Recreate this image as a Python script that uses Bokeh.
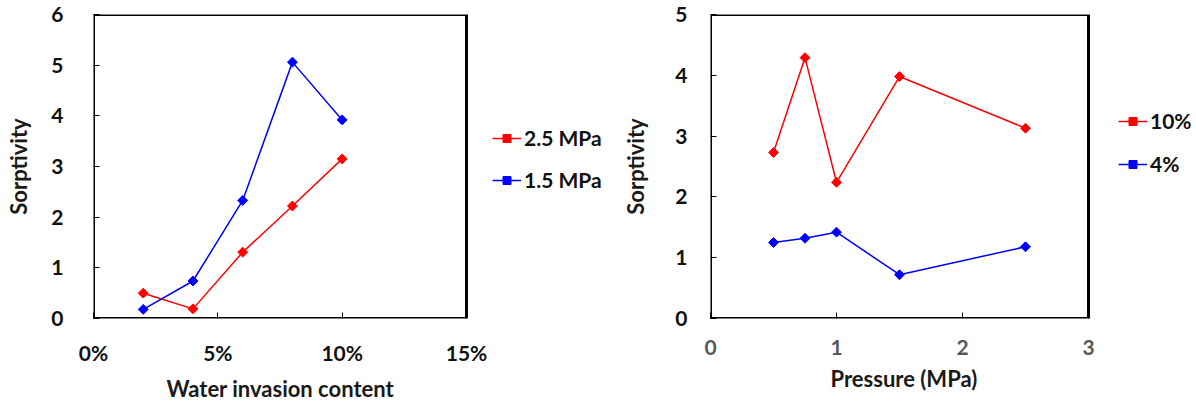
import math
from bokeh.plotting import figure
from bokeh.models import (Legend, LegendItem, FixedTicker, NumeralTickFormatter, Range1d,
                          BoxAnnotation, Title)
from bokeh.layouts import row
from bokeh.embed import file_html
from bokeh.resources import INLINE

# ---- data (left chart) ----
water_content = [0.02, 0.04, 0.06, 0.08, 0.10]
sorp_25mpa = [0.50, 0.19, 1.31, 2.22, 3.15]
sorp_15mpa = [0.18, 0.74, 2.33, 5.06, 3.92]
left_xticks = [0, 0.05, 0.10, 0.15]
left_yticks = [0, 1, 2, 3, 4, 5, 6]

# ---- data (right chart) ----
pressure = [0.5, 0.75, 1.0, 1.5, 2.5]
sorp_10pct = [2.73, 4.29, 2.24, 3.98, 3.13]
sorp_4pct = [1.25, 1.32, 1.42, 0.72, 1.18]
right_xticks = [0, 1, 2, 3]
right_yticks = [0, 1, 2, 3, 4, 5]

FONT = "Lato"
RED = "#ff0000"
BLUE = "#0000ff"
FIG_H = 407
TOP, BOTTOM = 14, 89


def style_axes(p, xtick_color, ytick_color, x_standoff, y_standoff, ylab_standoff):
    p.outline_line_color = None
    p.grid.visible = False
    p.background_fill_color = "white"
    p.border_fill_color = "white"
    for ax in (p.xaxis[0], p.yaxis[0]):
        ax.axis_line_color = None
        ax.major_tick_in = 6
        ax.major_tick_out = 0
        ax.major_tick_line_color = "black"
        ax.major_tick_line_width = 1
        ax.minor_tick_line_color = None
        ax.major_label_text_font = FONT
        ax.major_label_text_font_style = "bold"
        ax.major_label_text_font_size = "21px"
        ax.major_label_text_line_height = 1.0
        ax.axis_label_text_font = FONT
        ax.axis_label_text_font_style = "bold"
        ax.axis_label_text_font_size = "22px"
        ax.axis_label_text_line_height = 1.0
        ax.axis_label_text_color = "#1a1a1a"
    p.xaxis[0].major_label_text_color = xtick_color
    p.yaxis[0].major_label_text_color = ytick_color
    p.xaxis[0].major_label_standoff = x_standoff
    p.yaxis[0].major_label_standoff = y_standoff
    p.yaxis[0].axis_label_standoff = ylab_standoff


def add_box(p, xticks, yticks):
    p.add_layout(BoxAnnotation(left=xticks[0], right=xticks[-1], bottom=yticks[0], top=yticks[-1],
                               fill_alpha=0, line_color="black", line_alpha=1.0, line_width=3))


def add_xtitle(p, text, offset):
    p.add_layout(Title(text=text, align="left", offset=offset, standoff=10,
                       text_font=FONT, text_font_style="bold", text_font_size="22px",
                       text_color="#1a1a1a"), "below")


def add_series(p, xs, ys, color):
    r1 = p.line(xs, ys, line_color=color, line_width=1.5)
    r2 = p.scatter(xs, ys, marker="square", angle=math.pi / 4, size=7,
                   fill_color=color, line_color=color)
    return [r1, r2]


def make_legend(items, loc, spacing):
    lg = Legend(items=items, location=loc, orientation="vertical")
    lg.border_line_color = None
    lg.background_fill_alpha = 0
    lg.padding = 0
    lg.margin = 0
    lg.spacing = spacing
    lg.glyph_width = 29
    lg.glyph_height = 20
    lg.label_height = 20
    lg.label_standoff = 3
    lg.label_text_font = FONT
    lg.label_text_font_style = "bold"
    lg.label_text_font_size = "21px"
    lg.label_text_color = "#111111"
    return lg


# ---- left chart: frame spans page x 93..618, plot box 93..466 ----
L_W, L_LEFT = 618, 93
l_frame_w = L_W - L_LEFT
l_xend = left_xticks[-1] * l_frame_w / 373.0
p1 = figure(width=L_W, height=FIG_H, output_backend="svg", toolbar_location=None,
            x_range=Range1d(0, l_xend), y_range=Range1d(left_yticks[0], left_yticks[-1]),
            min_border_left=L_LEFT, min_border_right=0, min_border_top=TOP, min_border_bottom=BOTTOM)
style_axes(p1, "#111111", "#111111", 21, 30, 16)
p1.xaxis.ticker = FixedTicker(ticks=left_xticks)
p1.yaxis.ticker = FixedTicker(ticks=left_yticks)
p1.xaxis.formatter = NumeralTickFormatter(format="0%")
p1.yaxis.axis_label = "Sorptivity"
add_box(p1, left_xticks, left_yticks)
add_xtitle(p1, "Water invasion content", 73)
ra = add_series(p1, water_content, sorp_25mpa, RED)
rb = add_series(p1, water_content, sorp_15mpa, BLUE)
p1.add_layout(make_legend([LegendItem(label="2.5 MPa", renderers=ra),
                           LegendItem(label="1.5 MPa", renderers=rb)], (399, 126), 17))

# ---- right chart: frame spans page x 710..1194, plot box 710..1088 ----
R_W, R_LEFT = 576, 92
r_frame_w = R_W - R_LEFT
r_xend = right_xticks[-1] * r_frame_w / 378.0
p2 = figure(width=R_W, height=FIG_H, output_backend="svg", toolbar_location=None,
            x_range=Range1d(0, r_xend), y_range=Range1d(right_yticks[0], right_yticks[-1]),
            min_border_left=R_LEFT, min_border_right=0, min_border_top=TOP, min_border_bottom=BOTTOM)
style_axes(p2, "#595959", "#111111", 21, 23, 23)
p2.xaxis.ticker = FixedTicker(ticks=right_xticks)
p2.yaxis.ticker = FixedTicker(ticks=right_yticks)
p2.yaxis.axis_label = "Sorptivity"
add_box(p2, right_xticks, right_yticks)
add_xtitle(p2, "Pressure (MPa)", 120)
rc = add_series(p2, pressure, sorp_10pct, RED)
rd = add_series(p2, pressure, sorp_4pct, BLUE)
p2.add_layout(make_legend([LegendItem(label="10%", renderers=rc),
                           LegendItem(label="4%", renderers=rd)], (408, 142), 18))

layout = row(p1, p2, spacing=0)
open("out.html", "w").write(file_html(layout, INLINE))
